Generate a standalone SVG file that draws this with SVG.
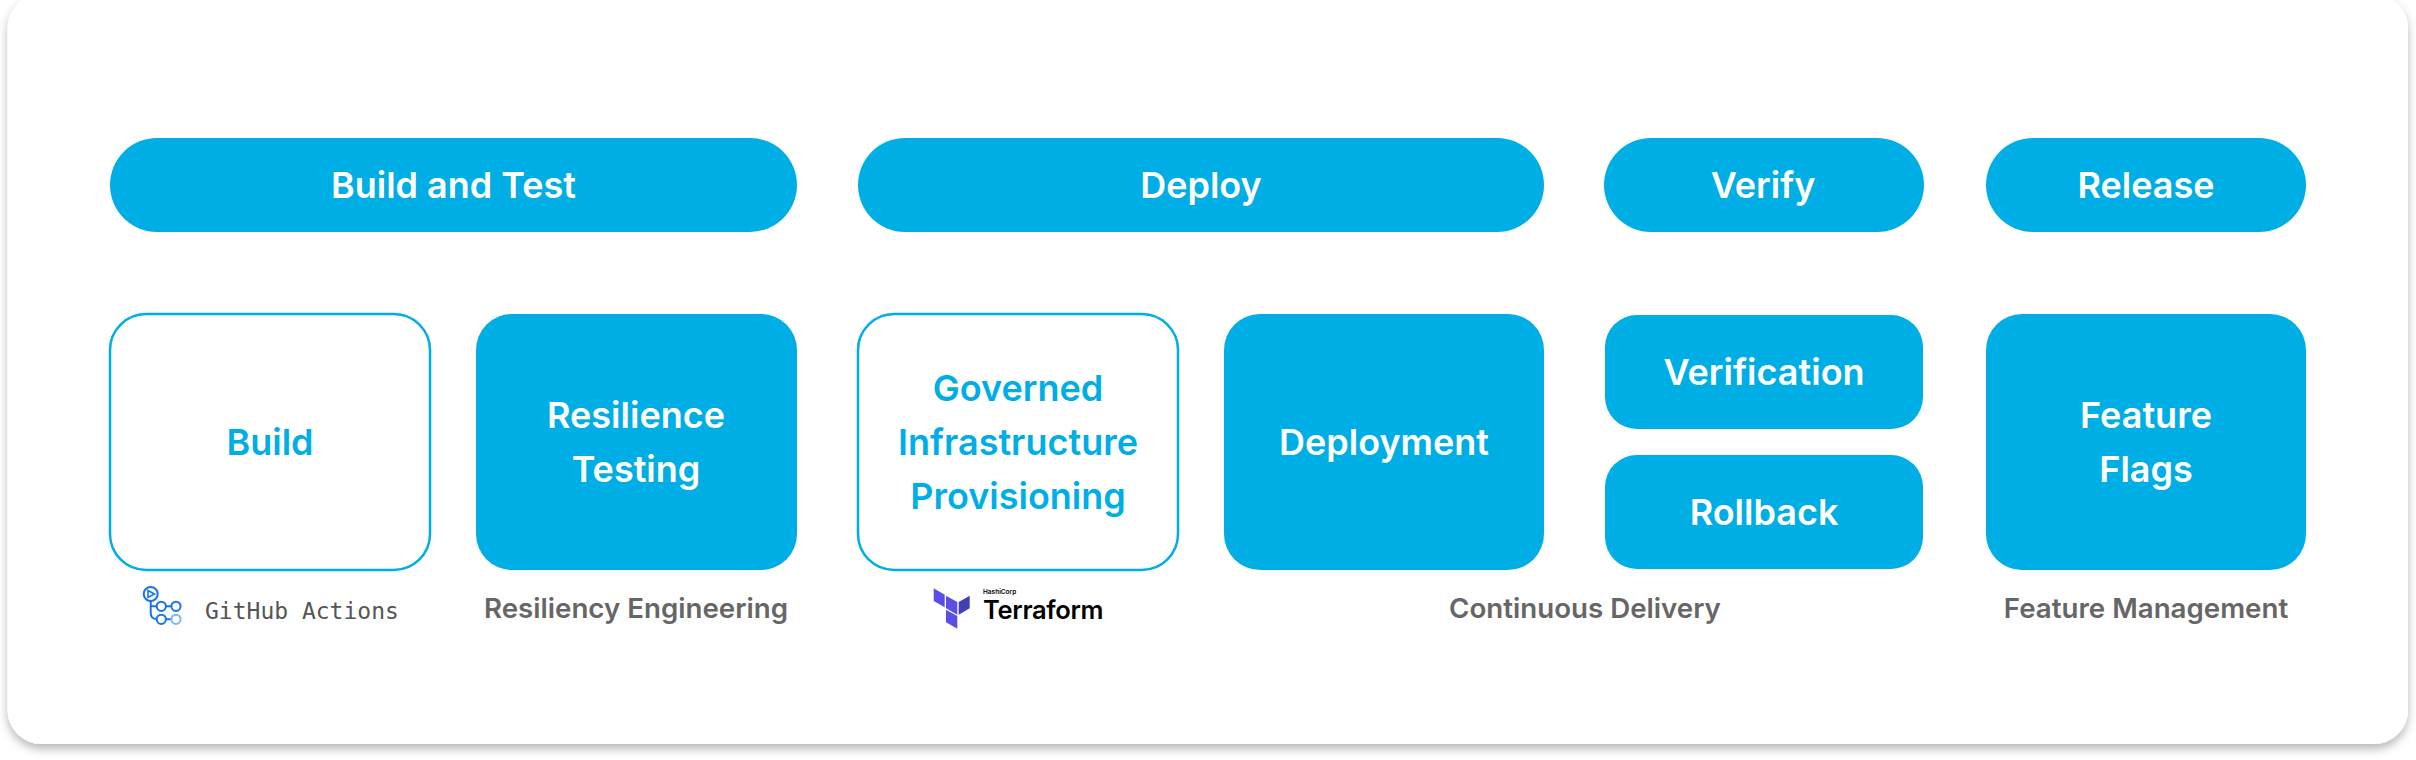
<svg xmlns="http://www.w3.org/2000/svg" width="2416" height="760" viewBox="0 0 2416 760">
<defs>
<filter id="sh" x="-2%" y="-5%" width="104%" height="110%"><feDropShadow dx="0" dy="5" stdDeviation="5" flood-color="#000" flood-opacity="0.28"/></filter>
</defs>
<style>
.f{fill:#00aee6}
.o{fill:#fff;stroke:#00aee6;stroke-width:2.5}
text{font-family:"Inter","Liberation Sans",sans-serif;font-weight:600;text-anchor:middle}
.w{fill:#fff;font-size:36px}
.b{fill:#00aee6;font-size:36px}
.c{fill:#666;font-size:27.7px}
.gh{fill:#1a73e8}
.gl{fill:none;stroke:#1a73e8;stroke-width:2}
</style>
<rect width="2416" height="760" fill="#fff"/>
<rect id="card" x="7.500" y="-6" width="2400.500" height="750" rx="34" fill="#fff" filter="url(#sh)"/>
<g id="connectors"></g>
<g id="n-build-test"><rect class="f" x="110" y="138" width="687" height="94" rx="47"/><text class="w" x="453.500" y="198">Build and Test</text></g>
<g id="n-deploy"><rect class="f" x="858" y="138" width="686" height="94" rx="47"/><text class="w" x="1201" y="198">Deploy</text></g>
<g id="n-verify"><rect class="f" x="1604" y="138" width="320" height="94" rx="47"/><text class="w" x="1763" y="198">Verify</text></g>
<g id="n-release"><rect class="f" x="1986" y="138" width="320" height="94" rx="47"/><text class="w" x="2146" y="198">Release</text></g>
<g id="n-build"><rect class="o" x="110" y="314" width="320" height="256" rx="36"/><text class="b" x="270" y="455">Build</text></g>
<g id="n-resilience"><rect class="f" x="476" y="314" width="321" height="256" rx="36"/><text class="w" x="636" y="428">Resilience</text><text class="w" x="636" y="482">Testing</text></g>
<g id="n-governed"><rect class="o" x="858" y="314" width="320" height="256" rx="36"/><text class="b" x="1018" y="401">Governed</text><text class="b" x="1018" y="455">Infrastructure</text><text class="b" x="1018" y="509">Provisioning</text></g>
<g id="n-deployment"><rect class="f" x="1224" y="314" width="320" height="256" rx="36"/><text class="w" x="1384" y="455">Deployment</text></g>
<g id="n-verification"><rect class="f" x="1605" y="315" width="318" height="114" rx="32"/><text class="w" x="1764" y="385">Verification</text></g>
<g id="n-rollback"><rect class="f" x="1605" y="455" width="318" height="114" rx="32"/><text class="w" x="1764" y="525">Rollback</text></g>
<g id="n-feature"><rect class="f" x="1986" y="314" width="320" height="256" rx="36"/><text class="w" x="2146" y="428">Feature</text><text class="w" x="2146" y="482">Flags</text></g>
<g id="l-github">
<circle class="gl" cx="150.700" cy="594" r="7"/><path d="M148 590.500l6.500 3.500-6.500 3.500z" style="fill:none;stroke:#1a73e8;stroke-width:1.600"/>
<path class="gl" d="M150.700 601v12q0 6 6 6M150.700 606.300h6M166 606.300h5.500M166 619.300h5"/>
<circle class="gl" cx="161.300" cy="606.300" r="4.600"/><circle class="gl" cx="176" cy="606.300" r="4.600"/><circle class="gl" cx="161.300" cy="619.300" r="4.600"/><circle cx="176" cy="619.300" r="4.600" fill="none" stroke="#79b8f5" stroke-width="2"/>
<text x="205" y="618.500" style="font-family:'DejaVu Sans Mono',monospace;font-weight:400;font-size:23px;text-anchor:start;fill:#555">GitHub Actions</text>
</g>
<text class="c" x="636" y="618">Resiliency Engineering</text>
<g id="l-terraform">
<polygon fill="#5c4ee5" points="933.700,588.300 944.700,594.700 944.700,607.300 933.700,601"/>
<polygon fill="#5c4ee5" points="946,595.700 957.300,602 957.300,614.700 946,608.300"/>
<polygon fill="#4040b2" points="958.700,602 969.700,595.700 969.700,608.300 958.700,614.700"/>
<polygon fill="#5c4ee5" points="946,609.700 957.300,616 957.300,628.700 946,622.300"/>
<text x="983" y="594" style="font-size:6.500px;text-anchor:start;fill:#000">HashiCorp</text>
<text x="983" y="619" style="font-size:25.500px;font-weight:600;text-anchor:start;fill:#000;letter-spacing:-0.300px">Terraform</text>
</g>
<text class="c" x="1585" y="618">Continuous Delivery</text>
<text class="c" x="2146" y="618">Feature Management</text>
</svg>
